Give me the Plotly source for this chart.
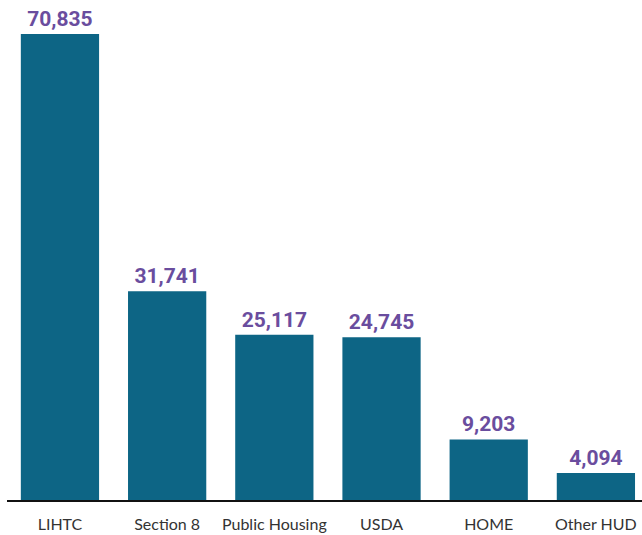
import plotly.graph_objects as go

categories = ["LIHTC", "Section 8", "Public Housing", "USDA", "HOME", "Other HUD"]
values = [70835, 31741, 25117, 24745, 9203, 4094]
labels = [f"{v:,}" for v in values]

fig = go.Figure(go.Bar(
    x=categories,
    y=values,
    text=labels,
    textposition="outside",
    cliponaxis=False,
    marker=dict(color="#0d6585", line=dict(width=0)),
    textfont=dict(family="Roboto", size=21, color="#6a4d9e", weight="bold"),
    width=0.73,
    hoverinfo="skip",
))

fig.update_layout(
    width=642, height=535,
    margin=dict(l=7, r=0, t=0, b=35),
    plot_bgcolor="white", paper_bgcolor="white",
    showlegend=False,
    xaxis=dict(
        range=[-0.494, 5.43],
        showline=True, linecolor="#111111", linewidth=2,
        ticks="", showgrid=False,
        ticklabelstandoff=9,
        tickfont=dict(family="Lato", size=16, color="#333333"),
    ),
    yaxis=dict(
        range=[0, 76003],
        visible=False, showgrid=False, zeroline=False,
    ),
)

fig.write_html(
    "out.html",
    config={"displayModeBar": False},
    post_script="document.body.style.margin='0';document.body.style.overflow='hidden';",
)
